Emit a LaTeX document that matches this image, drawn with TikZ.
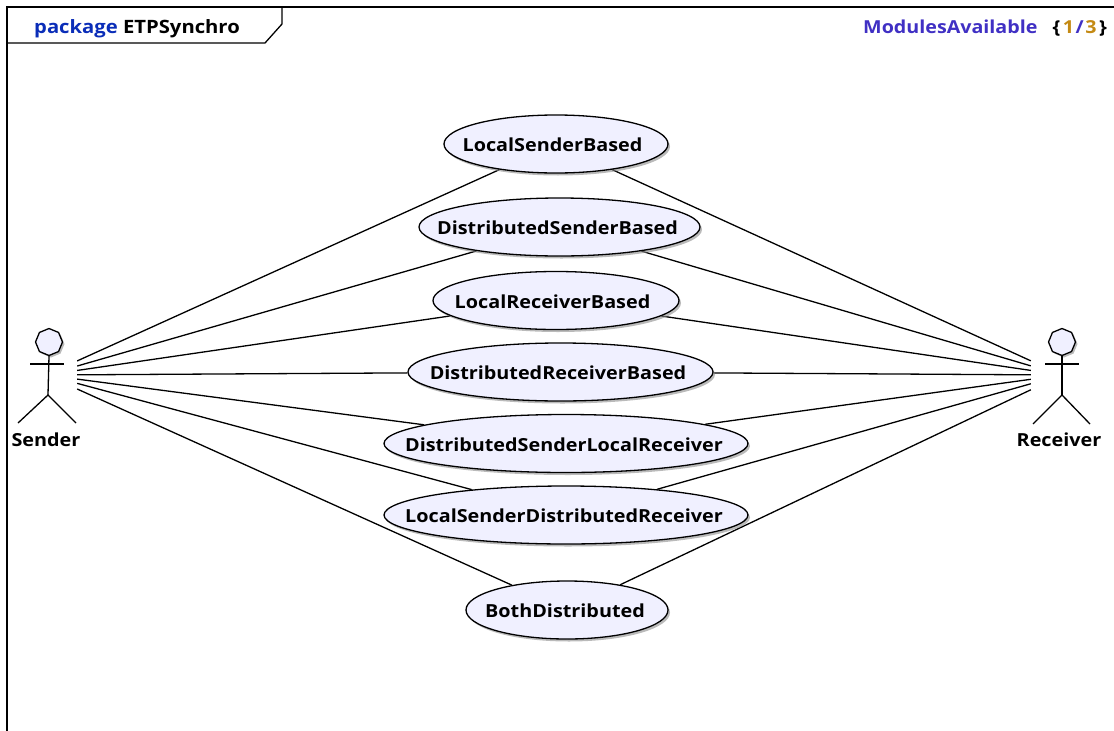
\documentclass[tikz,border=0pt]{standalone}
\usepackage{fontspec}
\setmainfont{Open Sans}[BoldFont={Open Sans Bold},BoldFeatures={FakeStretch=1.1}]
\usetikzlibrary{shapes.geometric,shadows}
\pgfdeclarelayer{bg}
\pgfsetlayers{bg,main}
\definecolor{ucfill}{HTML}{F0F0FF}
\definecolor{kwblue}{HTML}{0A2DB8}
\definecolor{modpurple}{HTML}{4030C4}
\definecolor{numgold}{HTML}{C48A14}
\tikzset{
  uc/.style={ellipse,draw=black,line width=1.3pt,fill=ucfill,inner sep=0pt,
    font=\fontsize{18}{20}\selectfont\bfseries,
    drop shadow={shadow xshift=2pt,shadow yshift=-2.5pt,fill=black!45,opacity=.6}},
  actorbox/.style={rectangle,inner sep=0pt,minimum width=62pt,minimum height=100pt},
  actorhead/.style={regular polygon,regular polygon sides=8,shape border rotate=22.5,draw=black,line width=1.3pt,fill=ucfill,inner sep=0pt,minimum size=27pt,
    drop shadow={shadow xshift=2pt,shadow yshift=-2pt,fill=black!45,opacity=.6}},
  actorline/.style={draw=black,line width=1.3pt},
  assoc/.style={draw=black,line width=1.3pt},
  frameline/.style={draw=black,line width=1.8pt},
  lbl/.style={inner sep=0pt,font=\fontsize{18}{20}\selectfont\bfseries,anchor=base},
  toplbl/.style={inner sep=0pt,font=\fontsize{18.4}{20}\selectfont\bfseries},
  modlbl/.style={inner sep=0pt,font=\fontsize{17.9}{20}\selectfont\bfseries}
}
% text of a use case, moved by #1 pt from the centre of its ellipse
\newcommand{\uctext}[2][0]{\makebox[0pt]{\hspace*{#1pt}\hspace*{#1pt}\raisebox{-7.5pt}[0pt][0pt]{#2}}}
\begin{document}
\begin{tikzpicture}[x=1pt,y=-1pt]
\useasboundingbox (0,0) rectangle (1114,731);
% frame
\coordinate (ftl) at (7,7);
\coordinate (ftr) at (1114,7);
\coordinate (fbl) at (7,731);
\coordinate (t1) at (7,43);
\coordinate (t2) at (265,43);
\coordinate (t3) at (282,24);
\coordinate (t4) at (282,7);
\draw[frameline] (fbl) -- (ftl) -- (ftr);
\draw[line width=1.3pt] (t1) -- (t2) -- (t3) -- (t4);
\node[toplbl,anchor=base west] (pk) at (34,33) {\textcolor{kwblue}{package} ETPSynchro};
\node[modlbl,anchor=base west] (mod) at (863,33) {\textcolor{modpurple}{ModulesAvailable}};
\node[modlbl,anchor=base east] (idx) at (1107,33) {\{\hspace{2.5pt}\textcolor{numgold}{1}\hspace{1.5pt}\textcolor{modpurple}{/}\hspace{1.5pt}\textcolor{numgold}{3}\hspace{2.5pt}\}};
% use cases
\node[uc,minimum width=224pt,minimum height=58pt] (u1) at (556,144) {\uctext[-3.5]{LocalSenderBased}};
\node[uc,minimum width=281pt,minimum height=58pt] (u2) at (559.5,227) {\uctext[-2]{DistributedSenderBased}};
\node[uc,minimum width=246pt,minimum height=58pt] (u3) at (556,300.5) {\uctext[-3.5]{LocalReceiverBased}};
\node[uc,minimum width=305pt,minimum height=58pt] (u4) at (560.5,372) {\uctext[-2.5]{DistributedReceiverBased}};
\node[uc,minimum width=364pt,minimum height=58pt] (u5) at (566,443.5) {\uctext[-2]{DistributedSenderLocalReceiver}};
\node[uc,minimum width=364pt,minimum height=58pt] (u6) at (566,515) {\uctext[-2]{LocalSenderDistributedReceiver}};
\node[uc,minimum width=202pt,minimum height=58pt] (u7) at (567,610) {\uctext[-2]{BothDistributed}};
% actors
\node[actorbox] (sender) at (46,375) {};
\node[actorbox] (receiver) at (1062,375) {};
\node[actorhead] (shead) at (49,342) {};
\node[actorhead] (rhead) at (1062,342) {};
\coordinate (sarmL) at (30,364); \coordinate (sarmR) at (64,364);
\coordinate (ship) at (48,395); \coordinate (slegL) at (18,423); \coordinate (slegR) at (76,423);
\coordinate (rarmL) at (1045,364); \coordinate (rarmR) at (1079,364);
\coordinate (rhip) at (1062,395); \coordinate (rlegL) at (1033,424); \coordinate (rlegR) at (1090,424);
\draw[actorline] (sarmL) -- (sarmR);
\draw[actorline] (shead.south) -- (ship);
\draw[actorline] (slegL) -- (ship) -- (slegR);
\draw[actorline] (rarmL) -- (rarmR);
\draw[actorline] (rhead.south) -- (rhip);
\draw[actorline] (rlegL) -- (rhip) -- (rlegR);
\node[lbl] (sname) at (46,446) {Sender};
\node[lbl] (rname) at (1059,446) {Receiver};
% connectors
\begin{pgfonlayer}{bg}
\foreach \u in {u1,u2,u3,u4,u5,u6,u7}{
  \draw[assoc] (sender) -- (\u);
  \draw[assoc] (receiver) -- (\u);
}
\end{pgfonlayer}
\end{tikzpicture}
\end{document}
